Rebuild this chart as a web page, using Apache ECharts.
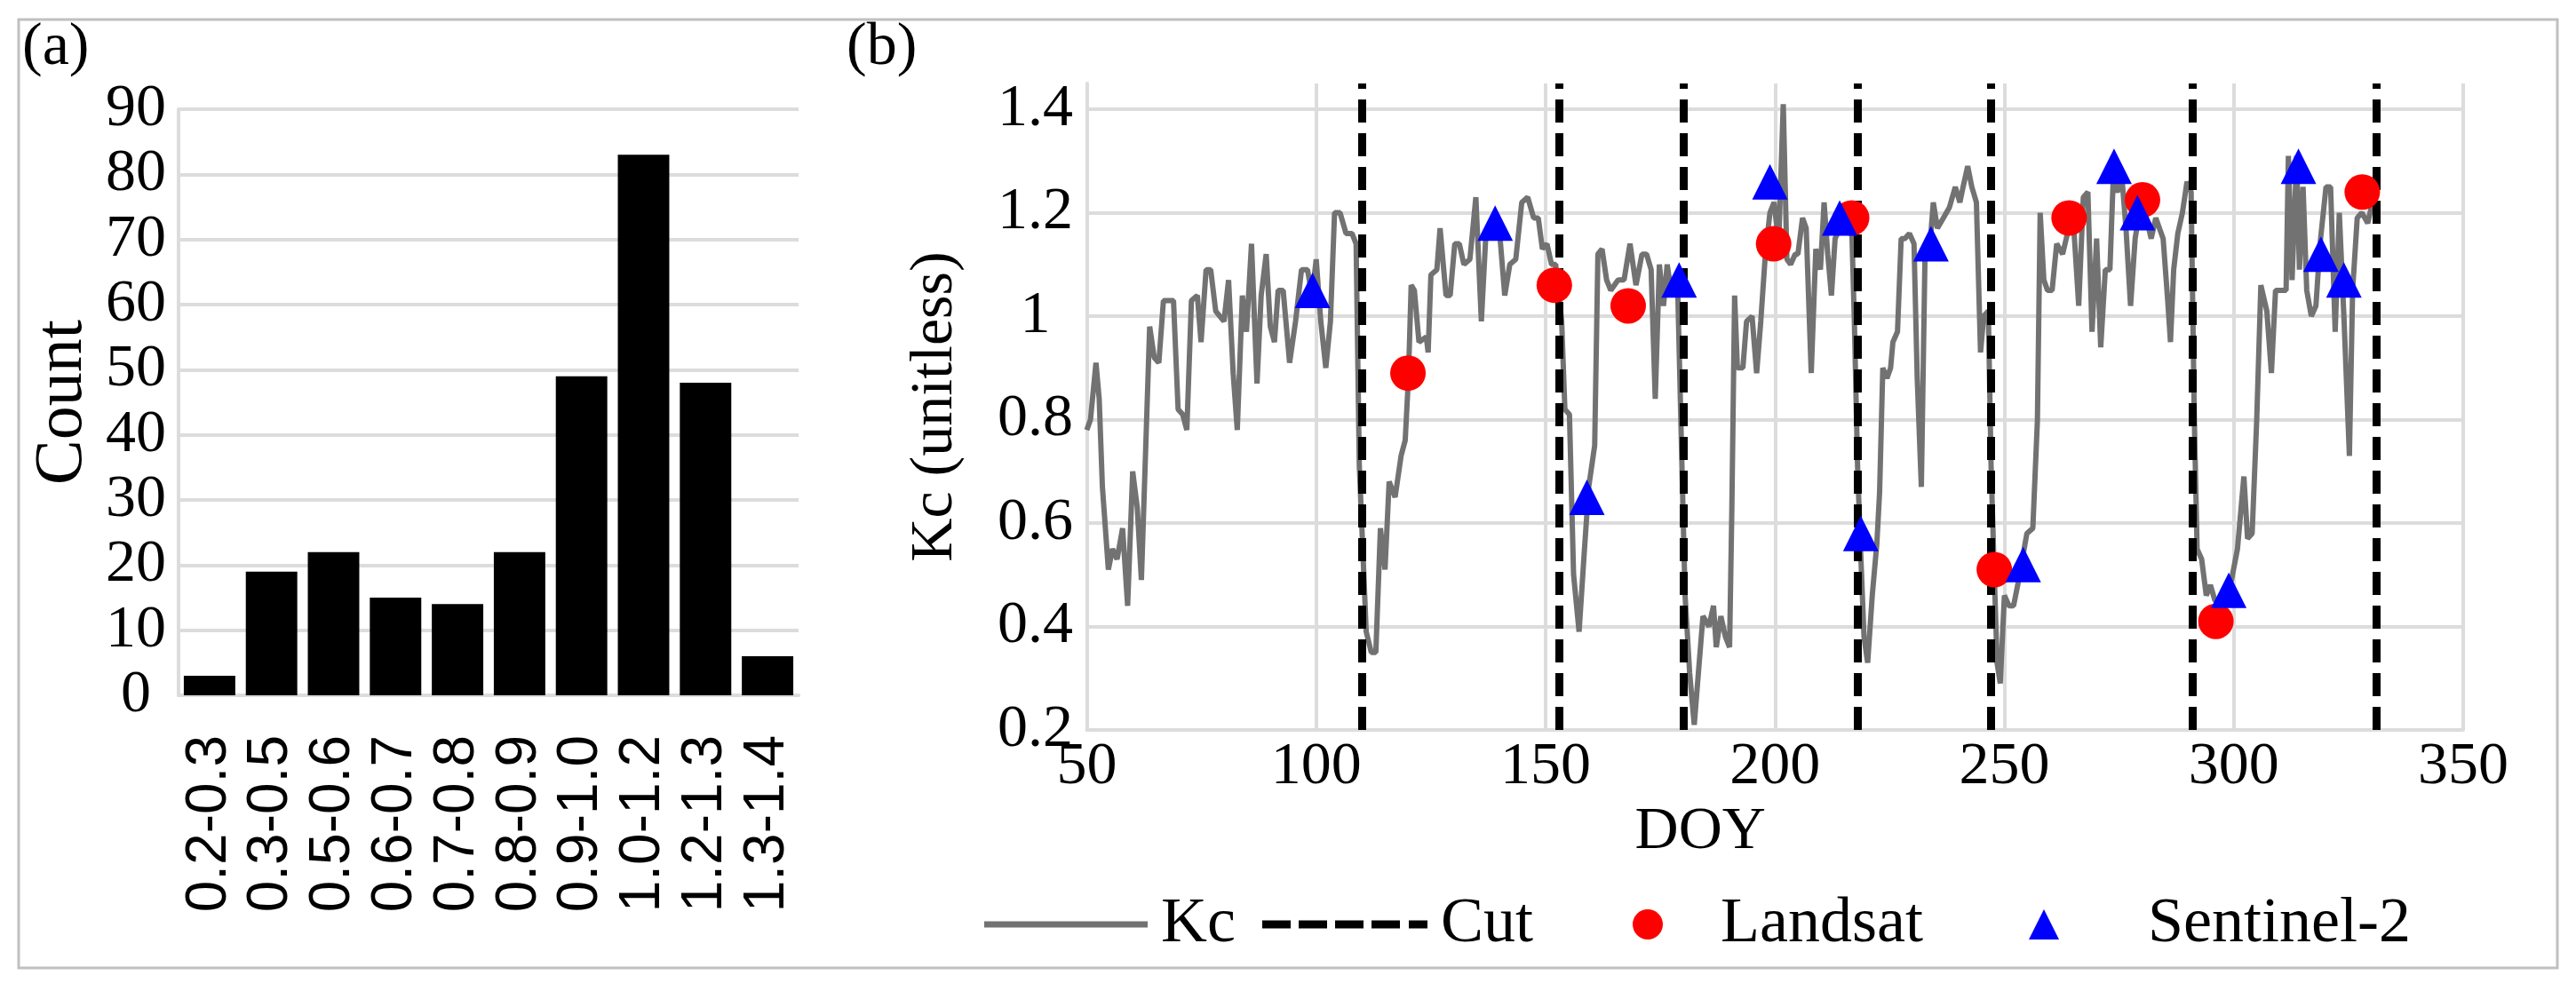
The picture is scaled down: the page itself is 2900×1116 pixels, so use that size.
<!DOCTYPE html>
<html><head><meta charset="utf-8">
<script src="https://cdn.jsdelivr.net/npm/echarts@6/dist/echarts.min.js"></script>
<style>html,body{margin:0;padding:0;background:#fff}#c{width:2900px;height:1116px}</style>
</head><body><div id="c"></div>
<script>
// ---------- data: panel (a) histogram ----------
const histCategories = ['0.2-0.3','0.3-0.5','0.5-0.6','0.6-0.7','0.7-0.8','0.8-0.9','0.9-1.0','1.0-1.2','1.2-1.3','1.3-1.4'];
const histCounts = [3, 19, 22, 15, 14, 22, 49, 83, 48, 6];
const countAxis = {min: 0, max: 90, interval: 10};

// ---------- data: panel (b) Kc time series ----------
const doyAxis = {min: 50, max: 350, interval: 50};
const kcAxis = {min: 0.2, max: 1.45, interval: 0.2};
const kcDoy = [50,50.8,52,52.7,53.4,54.7,55.6,56.6,57.8,58.9,60,61,61.9,63.7,64.7,65.7,66.7,68.9,69.9,70.9,71.8,72.8,74.1,74.9,76,77,78.1,79.9,80.9,81.9,82.8,83.9,84.8,85.9,87.1,88,89.1,90,90.9,91.7,92.8,94.2,95.5,96.8,98.1,99.1,100,101,102.1,103.1,104,105.2,106.5,107.8,108.7,109.4,110.9,112,113,114,115,115.9,117.2,118.5,119.4,120.1,120.7,121.4,122.4,124,124.4,125,126.3,127,128.3,129.2,130.2,131.2,132.2,133.5,134.8,136,137,138.6,139.9,141.1,142.2,143.5,144.8,146.1,147.4,148.4,149.3,150.3,151.3,152.2,153.5,154.2,155.2,156.1,157.3,158.4,159.4,160.7,161.4,162.3,163.3,164.2,165.8,167.1,168.4,169.7,171,172,173,173.9,174.8,175.7,176.5,177.5,178.8,180.4,181.4,182.4,183.3,184.3,185.6,186.6,187.2,188.2,189.2,190.1,190.6,191.2,191.8,193,193.8,195,196,196.9,197.9,198.9,199.8,200.8,201.8,202.6,203.4,204.4,205,206,206.8,207.9,208.9,209.9,210.7,211.5,212.3,213.1,214.1,215.1,216,216.7,217.3,218,218.6,219.4,220.2,221.2,222.2,222.8,223.5,224.4,225.2,225.7,226.7,227.5,228.3,229.3,230.3,231,231.9,232.7,233.8,234.5,235.4,236.7,238,239.3,240.3,241,242,242.9,243.9,244.8,245.5,246.5,247.1,247.8,248.4,249.1,250,251,252,252.9,253.9,254.9,256.2,257.2,257.8,258.6,259.4,260.4,261.4,262.7,264,265.2,266.2,267.2,268.2,269.1,270.1,271,272,273,273.7,274.6,275.6,276.5,277.5,278.5,279.4,280.4,282,283,284.6,285.6,286.2,286.9,287.8,288.8,289.8,290.7,291.4,292,293,294,294.9,295.9,297.5,299.5,300.8,302.2,303,304,305,305.9,307.2,308.2,309.1,310.4,311.4,311.9,312.7,313.7,314.3,315.1,315.9,316.9,317.9,318.8,320.1,321.1,322.1,323,324,325.2,325.9,326.9,327.9,329.2,330.2];
const kcVal = [0.78,0.80,0.91,0.84,0.67,0.51,0.55,0.53,0.59,0.44,0.70,0.63,0.49,0.98,0.92,0.91,1.03,1.03,0.82,0.81,0.78,1.03,1.04,0.95,1.09,1.09,1.01,0.99,1.07,0.89,0.78,1.04,0.97,1.14,0.87,1.04,1.12,0.98,0.95,1.05,1.05,0.91,0.99,1.09,1.09,1.04,1.11,0.99,0.90,0.99,1.20,1.20,1.16,1.16,1.14,0.71,0.39,0.35,0.35,0.59,0.51,0.68,0.65,0.73,0.76,0.88,1.06,1.05,0.95,0.96,0.93,1.08,1.09,1.17,1.04,1.04,1.14,1.14,1.10,1.11,1.23,0.99,1.16,1.17,1.17,1.04,1.10,1.11,1.22,1.23,1.19,1.19,1.13,1.14,1.10,1.10,0.99,0.82,0.81,0.50,0.39,0.54,0.67,0.75,1.12,1.13,1.07,1.05,1.07,1.07,1.14,1.06,1.12,1.12,1.09,0.84,1.10,1.02,1.10,1.04,1.05,0.46,0.31,0.21,0.31,0.42,0.40,0.44,0.36,0.42,0.38,0.36,0.63,1.04,0.90,0.90,0.99,1.00,0.89,0.99,1.12,1.20,1.22,1.14,1.41,1.11,1.10,1.12,1.12,1.19,1.17,0.89,1.13,1.09,1.22,1.12,1.04,1.15,1.17,1.18,1.22,1.18,0.99,0.71,0.56,0.38,0.33,0.46,0.56,0.66,0.90,0.88,0.90,0.95,0.97,1.15,1.15,1.16,1.14,0.88,0.67,1.12,1.14,1.22,1.17,1.19,1.21,1.25,1.22,1.25,1.29,1.25,1.22,0.93,1.00,1.01,0.71,0.50,0.33,0.29,0.46,0.44,0.44,0.48,0.53,0.58,0.59,0.80,1.20,1.07,1.05,1.05,1.14,1.12,1.17,1.16,1.02,1.23,1.24,0.97,1.15,0.94,1.09,1.09,1.26,1.24,1.27,1.17,1.02,1.15,1.20,1.21,1.15,1.19,1.15,1.03,0.95,1.09,1.16,1.20,1.26,1.24,0.80,0.55,0.53,0.46,0.48,0.45,0.45,0.49,0.55,0.69,0.57,0.58,0.80,1.06,1.01,0.89,1.05,1.05,1.05,1.31,1.07,1.31,1.09,1.25,1.05,1.00,1.02,1.14,1.25,1.25,0.97,1.20,1.00,0.73,1.05,1.19,1.20,1.18,1.22];
const cutDoy = [110, 153, 180, 218, 247, 291, 331];
const landsatDoy = [120, 151.9, 168, 199.7, 216.7, 247.8, 264.1, 280.1, 296.1, 328];
const landsatKc  = [0.89, 1.06, 1.02, 1.14, 1.19, 0.51, 1.19, 1.225, 0.41, 1.24];
const sentinelDoy = [99.2, 139, 159, 179.1, 198.9, 214.1, 218.7, 234, 254.1, 273.9, 279, 298.9, 314.1, 319, 324];
const sentinelKc  = [1.05, 1.18, 0.65, 1.07, 1.26, 1.19, 0.58, 1.14, 0.52, 1.29, 1.20, 0.47, 1.29, 1.12, 1.07];

// ---------- styles ----------
const SERIF = 'Liberation Serif';
const SANS = 'Liberation Sans';
const GRIDC = '#dcdcdc';
const KC_GRAY = '#727272';
const legendText = pad => ({fontFamily: SERIF, fontSize: 72, color: '#000', padding: [0, 0, 0, pad]});
const DASH_ICON = 'path://M0,0H32V9H0Z M41,0H73V9H41Z M82,0H114V9H82Z M123,0H155V9H123Z M165,0H186V9H165Z';

const zip = (a, b) => a.map((v, i) => [v, b[i]]);

const chart = echarts.init(document.getElementById('c'), null, {renderer: 'canvas'});
chart.setOption({
  animation: false,
  backgroundColor: '#fff',
  graphic: [
    {type: 'rect', shape: {x: 21, y: 22, width: 2858, height: 1068},
     style: {fill: 'none', stroke: '#c0c0c0', lineWidth: 3}, silent: true},
    {type: 'text', x: 25, y: 20, style: {text: '(a)', font: '68px "Liberation Serif"', fill: '#000', verticalAlign: 'top'}},
    {type: 'text', x: 953, y: 20, style: {text: '(b)', font: '68px "Liberation Serif"', fill: '#000', verticalAlign: 'top'}}
  ],
  grid: [
    {left: 201, top: 123, width: 698, height: 660, outerBoundsMode: 'none', containLabel: false},
    {left: 1223.5, top: 94, width: 1549.5, height: 728, outerBoundsMode: 'none', containLabel: false}
  ],
  legend: [
    {left: 1108, top: 1005, padding: 0, itemWidth: 184, itemHeight: 7, selectedMode: false,
     data: [{name: 'Kc', icon: 'rect', itemStyle: {color: KC_GRAY}}], textStyle: legendText(10)},
    {left: 1421, top: 1005, padding: 0, itemWidth: 186, itemHeight: 9, selectedMode: false,
     data: [{name: 'Cut', icon: DASH_ICON, itemStyle: {color: '#000'}}], textStyle: legendText(10)},
    {left: 1838, top: 1005, padding: 0, itemWidth: 34, itemHeight: 34, selectedMode: false,
     data: ['Landsat'], textStyle: legendText(60)},
    {left: 2284, top: 1005, padding: 0, itemWidth: 34, itemHeight: 34, selectedMode: false,
     data: ['Sentinel-2'], textStyle: legendText(95)}
  ],
  xAxis: [
    {type: 'category', gridIndex: 0, data: histCategories,
     axisLine: {show: true, lineStyle: {color: GRIDC, width: 4}},
     axisTick: {show: false}, splitLine: {show: false},
     axisLabel: {interval: 0, rotate: 90, margin: 45, fontFamily: SANS, fontSize: 64, color: '#000'}},
    {type: 'value', gridIndex: 1, min: doyAxis.min, max: doyAxis.max, interval: doyAxis.interval,
     name: 'DOY', nameLocation: 'middle', nameGap: 75,
     nameTextStyle: {fontFamily: SERIF, fontSize: 68, color: '#000', padding: [0, 168, 0, 0]},
     axisLine: {show: true, lineStyle: {color: GRIDC, width: 4}},
     axisTick: {show: false},
     splitLine: {show: true, lineStyle: {color: GRIDC, width: 4}},
     axisLabel: {margin: 8, fontFamily: SERIF, fontSize: 68, color: '#000'}}
  ],
  yAxis: [
    {type: 'value', gridIndex: 0, min: countAxis.min, max: countAxis.max, interval: countAxis.interval,
     name: 'Count', nameLocation: 'middle', nameRotate: 90, nameGap: 92,
     nameTextStyle: {fontFamily: SERIF, fontSize: 76, color: '#000'},
     axisLine: {show: true, lineStyle: {color: GRIDC, width: 4}},
     axisTick: {show: false},
     splitLine: {show: true, lineStyle: {color: GRIDC, width: 4}},
     axisLabel: {align: 'center', margin: 48, fontFamily: SERIF, fontSize: 68, color: '#000'}},
    {type: 'value', gridIndex: 1, min: kcAxis.min, max: kcAxis.max, interval: kcAxis.interval,
     name: 'Kc (unitless)', nameLocation: 'middle', nameRotate: 90, nameGap: 136,
     nameTextStyle: {fontFamily: SERIF, fontSize: 68, color: '#000'},
     axisLine: {show: true, lineStyle: {color: GRIDC, width: 4}},
     axisTick: {show: false},
     splitLine: {show: true, showMaxLine: false, lineStyle: {color: GRIDC, width: 4}},
     axisLabel: {align: 'center', margin: 58, showMaxLabel: false, fontFamily: SERIF, fontSize: 68, color: '#000',
       formatter: v => { const r = Math.round(v * 100) / 100; return r > 1.41 ? '' : String(r); }}}
  ],
  series: [
    {name: 'Count', type: 'bar', xAxisIndex: 0, yAxisIndex: 0, data: histCounts,
     barCategoryGap: '17%', itemStyle: {color: '#000'}},
    {name: 'Kc', type: 'line', xAxisIndex: 1, yAxisIndex: 1, data: zip(kcDoy, kcVal),
     symbol: 'none', showSymbol: false, z: 2,
     lineStyle: {color: KC_GRAY, width: 6}, itemStyle: {color: KC_GRAY}},
    {name: 'Cut', type: 'line', xAxisIndex: 1, yAxisIndex: 1, data: [], symbol: 'none', z: 3,
     lineStyle: {color: '#000', width: 9, type: [26, 12]}, itemStyle: {color: '#000'},
     markLine: {silent: true, symbol: 'none', label: {show: false}, animation: false, z: 3,
       lineStyle: {color: '#000', width: 9, type: [26, 12], cap: 'butt'},
       emphasis: {disabled: true},
       data: cutDoy.map(d => ({xAxis: d}))}},
    {name: 'Landsat', type: 'scatter', xAxisIndex: 1, yAxisIndex: 1, data: zip(landsatDoy, landsatKc),
     symbol: 'circle', symbolSize: 40, z: 10, itemStyle: {color: '#ff0000', opacity: 1}},
    {name: 'Sentinel-2', type: 'scatter', xAxisIndex: 1, yAxisIndex: 1, data: zip(sentinelDoy, sentinelKc),
     symbol: 'triangle', symbolSize: 40, z: 11, itemStyle: {color: '#0000ff', opacity: 1}}
  ]
});
</script>
</body></html>
